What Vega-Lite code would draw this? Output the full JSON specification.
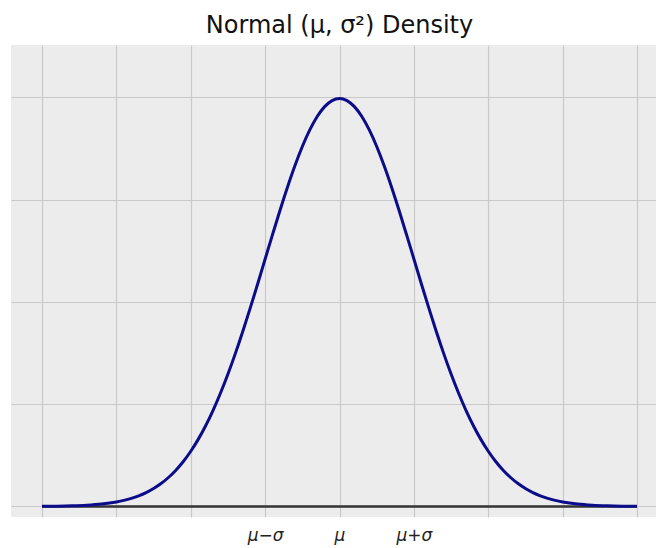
{
  "$schema": "https://vega.github.io/schema/vega-lite/v6.json",
  "width": 645,
  "height": 472,
  "autosize": {"type": "none"},
  "padding": {"left": 11, "top": 45, "right": 0, "bottom": 31},
  "background": "white",
  "config": {
    "view": {"fill": "#ececec", "stroke": null},
    "font": "DejaVu Sans"
  },
  "title": {
    "text": "Normal (μ, σ²) Density",
    "fontSize": 24,
    "fontWeight": "normal",
    "font": "DejaVu Sans",
    "color": "#111111",
    "baseline": "bottom",
    "frame": "group",
    "offset": -17,
    "dx": 6
  },
  "datasets": {
    "curve": [
      {"x": -4.0, "y": 0.000134},
      {"x": -3.8, "y": 0.000292},
      {"x": -3.6, "y": 0.000612},
      {"x": -3.4, "y": 0.001232},
      {"x": -3.2, "y": 0.002384},
      {"x": -3.0, "y": 0.004432},
      {"x": -2.9, "y": 0.005953},
      {"x": -2.8, "y": 0.007915},
      {"x": -2.7, "y": 0.010421},
      {"x": -2.6, "y": 0.013583},
      {"x": -2.5, "y": 0.017528},
      {"x": -2.4, "y": 0.022395},
      {"x": -2.3, "y": 0.028327},
      {"x": -2.2, "y": 0.035475},
      {"x": -2.1, "y": 0.043984},
      {"x": -2.0, "y": 0.053991},
      {"x": -1.9, "y": 0.065616},
      {"x": -1.8, "y": 0.07895},
      {"x": -1.7, "y": 0.094049},
      {"x": -1.6, "y": 0.110921},
      {"x": -1.5, "y": 0.129518},
      {"x": -1.4, "y": 0.149727},
      {"x": -1.3, "y": 0.171369},
      {"x": -1.2, "y": 0.194186},
      {"x": -1.1, "y": 0.217852},
      {"x": -1.0, "y": 0.241971},
      {"x": -0.9, "y": 0.266085},
      {"x": -0.8, "y": 0.289692},
      {"x": -0.7, "y": 0.312254},
      {"x": -0.6, "y": 0.333225},
      {"x": -0.5, "y": 0.352065},
      {"x": -0.4, "y": 0.36827},
      {"x": -0.3, "y": 0.381388},
      {"x": -0.2, "y": 0.391043},
      {"x": -0.1, "y": 0.396953},
      {"x": 0.0, "y": 0.398942},
      {"x": 0.1, "y": 0.396953},
      {"x": 0.2, "y": 0.391043},
      {"x": 0.3, "y": 0.381388},
      {"x": 0.4, "y": 0.36827},
      {"x": 0.5, "y": 0.352065},
      {"x": 0.6, "y": 0.333225},
      {"x": 0.7, "y": 0.312254},
      {"x": 0.8, "y": 0.289692},
      {"x": 0.9, "y": 0.266085},
      {"x": 1.0, "y": 0.241971},
      {"x": 1.1, "y": 0.217852},
      {"x": 1.2, "y": 0.194186},
      {"x": 1.3, "y": 0.171369},
      {"x": 1.4, "y": 0.149727},
      {"x": 1.5, "y": 0.129518},
      {"x": 1.6, "y": 0.110921},
      {"x": 1.7, "y": 0.094049},
      {"x": 1.8, "y": 0.07895},
      {"x": 1.9, "y": 0.065616},
      {"x": 2.0, "y": 0.053991},
      {"x": 2.1, "y": 0.043984},
      {"x": 2.2, "y": 0.035475},
      {"x": 2.3, "y": 0.028327},
      {"x": 2.4, "y": 0.022395},
      {"x": 2.5, "y": 0.017528},
      {"x": 2.6, "y": 0.013583},
      {"x": 2.7, "y": 0.010421},
      {"x": 2.8, "y": 0.007915},
      {"x": 2.9, "y": 0.005953},
      {"x": 3.0, "y": 0.004432},
      {"x": 3.2, "y": 0.002384},
      {"x": 3.4, "y": 0.001232},
      {"x": 3.6, "y": 0.000612},
      {"x": 3.8, "y": 0.000292},
      {"x": 4.0, "y": 0.000134}
    ],
    "base": [{"x": -4, "x2": 4, "y": 0}]
  },
  "layer": [
    {
      "data": {"name": "base"},
      "mark": {"type": "rule", "color": "#333333", "strokeWidth": 2.5},
      "encoding": {
        "x": {
          "field": "x",
          "type": "quantitative",
          "scale": {"domain": [-4.417, 4.255], "nice": false, "zero": false},
          "axis": {
            "values": [-4, -3, -2, -1, 0, 1, 2, 3, 4],
            "labelExpr": "datum.value == -1 ? 'μ−σ' : datum.value == 0 ? 'μ' : datum.value == 1 ? 'μ+σ' : ''",
            "title": null,
            "domain": false,
            "ticks": false,
            "tickSize": 0,
            "labelPadding": 10,
            "labelFontSize": 17,
            "labelFontStyle": "italic",
            "labelFont": "DejaVu Sans",
            "labelColor": "#222222",
            "grid": true,
            "gridColor": "#c9c9c9",
            "gridWidth": 1.2
          }
        },
        "x2": {"field": "x2"},
        "y": {
          "field": "y",
          "type": "quantitative",
          "scale": {"domain": [-0.0103, 0.4513], "nice": false, "zero": false},
          "axis": {
            "values": [0, 0.1, 0.2, 0.3, 0.4],
            "labels": false,
            "ticks": false,
            "domain": false,
            "title": null,
            "grid": true,
            "gridColor": "#c9c9c9",
            "gridWidth": 1.2
          }
        }
      }
    },
    {
      "data": {"name": "curve"},
      "mark": {"type": "line", "color": "#0c0c8a", "strokeWidth": 3, "interpolate": "monotone"},
      "encoding": {
        "x": {"field": "x", "type": "quantitative"},
        "y": {"field": "y", "type": "quantitative"}
      }
    }
  ]
}
